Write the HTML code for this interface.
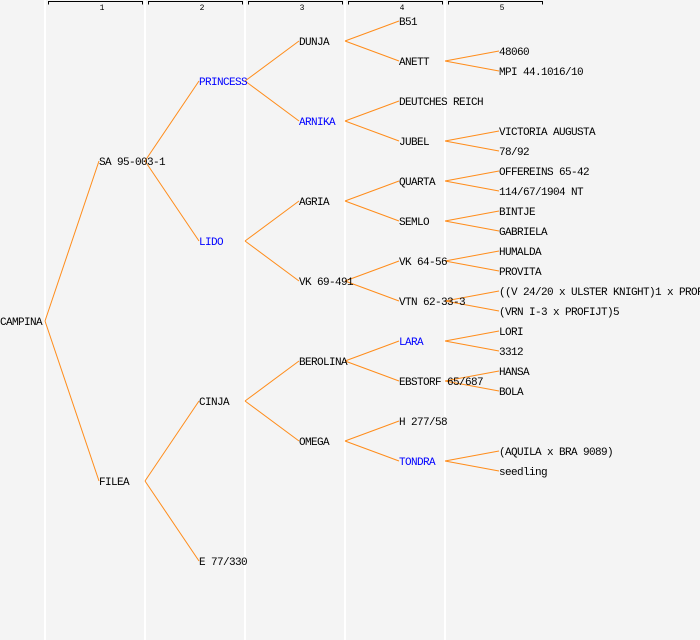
<!DOCTYPE html>
<html><head><meta charset="utf-8"><style>
html,body{margin:0;padding:0;background:#f4f4f4;}
svg{display:block;}
text{font-family:"Liberation Mono",monospace;font-size:11px;letter-spacing:-0.6px;fill:#000;}
.b{fill:#0000ff;}
.h{font-size:8px;letter-spacing:0;}
line.c{stroke:#ff8c1a;stroke-width:1;}
</style></head><body>
<svg width="700" height="640" xmlns="http://www.w3.org/2000/svg">
<rect width="700" height="640" fill="#f4f4f4"/>
<g stroke="#fff" stroke-width="2">
<line x1="45" y1="0" x2="45" y2="640"/><line x1="145" y1="0" x2="145" y2="640"/><line x1="245" y1="0" x2="245" y2="640"/><line x1="345" y1="0" x2="345" y2="640"/><line x1="445" y1="0" x2="445" y2="640"/>
</g>
<g stroke="#000" stroke-width="1" fill="none">
<path d="M48.5 4.5V1.5H142.5V4.5"/><path d="M148.5 4.5V1.5H242.5V4.5"/><path d="M248.5 4.5V1.5H342.5V4.5"/><path d="M348.5 4.5V1.5H442.5V4.5"/><path d="M448.5 4.5V1.5H542.5V4.5"/>
</g>
<g text-anchor="middle"><text class="h" x="102" y="10">1</text><text class="h" x="202" y="10">2</text><text class="h" x="302" y="10">3</text><text class="h" x="402" y="10">4</text><text class="h" x="502" y="10">5</text></g>
<g>
<line class="c" x1="45" y1="321" x2="99" y2="161"/><line class="c" x1="45" y1="321" x2="99" y2="481"/>
<line class="c" x1="145" y1="161" x2="199" y2="81"/><line class="c" x1="145" y1="161" x2="199" y2="241"/>
<line class="c" x1="145" y1="481" x2="199" y2="401"/><line class="c" x1="145" y1="481" x2="199" y2="561"/>
<line class="c" x1="245" y1="81" x2="299" y2="41"/><line class="c" x1="245" y1="81" x2="299" y2="121"/>
<line class="c" x1="245" y1="241" x2="299" y2="201"/><line class="c" x1="245" y1="241" x2="299" y2="281"/>
<line class="c" x1="245" y1="401" x2="299" y2="361"/><line class="c" x1="245" y1="401" x2="299" y2="441"/>
<line class="c" x1="345" y1="41" x2="399" y2="21"/><line class="c" x1="345" y1="41" x2="399" y2="61"/>
<line class="c" x1="345" y1="121" x2="399" y2="101"/><line class="c" x1="345" y1="121" x2="399" y2="141"/>
<line class="c" x1="345" y1="201" x2="399" y2="181"/><line class="c" x1="345" y1="201" x2="399" y2="221"/>
<line class="c" x1="345" y1="281" x2="399" y2="261"/><line class="c" x1="345" y1="281" x2="399" y2="301"/>
<line class="c" x1="345" y1="361" x2="399" y2="341"/><line class="c" x1="345" y1="361" x2="399" y2="381"/>
<line class="c" x1="345" y1="441" x2="399" y2="421"/><line class="c" x1="345" y1="441" x2="399" y2="461"/>
<line class="c" x1="445" y1="61" x2="499" y2="51"/><line class="c" x1="445" y1="61" x2="499" y2="71"/>
<line class="c" x1="445" y1="141" x2="499" y2="131"/><line class="c" x1="445" y1="141" x2="499" y2="151"/>
<line class="c" x1="445" y1="181" x2="499" y2="171"/><line class="c" x1="445" y1="181" x2="499" y2="191"/>
<line class="c" x1="445" y1="221" x2="499" y2="211"/><line class="c" x1="445" y1="221" x2="499" y2="231"/>
<line class="c" x1="445" y1="261" x2="499" y2="251"/><line class="c" x1="445" y1="261" x2="499" y2="271"/>
<line class="c" x1="445" y1="301" x2="499" y2="291"/><line class="c" x1="445" y1="301" x2="499" y2="311"/>
<line class="c" x1="445" y1="341" x2="499" y2="331"/><line class="c" x1="445" y1="341" x2="499" y2="351"/>
<line class="c" x1="445" y1="381" x2="499" y2="371"/><line class="c" x1="445" y1="381" x2="499" y2="391"/>
<line class="c" x1="445" y1="461" x2="499" y2="451"/><line class="c" x1="445" y1="461" x2="499" y2="471"/>
</g>
<g>
<text x="0" y="325">CAMPINA</text>
<text x="99" y="165">SA 95-003-1</text><text x="99" y="485">FILEA</text>
<text class="b" x="199" y="85">PRINCESS</text><text class="b" x="199" y="245">LIDO</text><text x="199" y="405">CINJA</text><text x="199" y="565">E 77/330</text>
<text x="299" y="45">DUNJA</text><text class="b" x="299" y="125">ARNIKA</text><text x="299" y="205">AGRIA</text><text x="299" y="285">VK 69-491</text><text x="299" y="365">BEROLINA</text><text x="299" y="445">OMEGA</text>
<text x="399" y="25">B51</text><text x="399" y="65">ANETT</text><text x="399" y="105">DEUTCHES REICH</text><text x="399" y="145">JUBEL</text><text x="399" y="185">QUARTA</text><text x="399" y="225">SEMLO</text><text x="399" y="265">VK 64-56</text><text x="399" y="305">VTN 62-33-3</text><text class="b" x="399" y="345">LARA</text><text x="399" y="385">EBSTORF 65/687</text><text x="399" y="425">H 277/58</text><text class="b" x="399" y="465">TONDRA</text>
<text x="499" y="55">48060</text><text x="499" y="75">MPI 44.1016/10</text><text x="499" y="135">VICTORIA AUGUSTA</text><text x="499" y="155">78/92</text><text x="499" y="175">OFFEREINS 65-42</text><text x="499" y="195">114/67/1904 NT</text><text x="499" y="215">BINTJE</text><text x="499" y="235">GABRIELA</text><text x="499" y="255">HUMALDA</text><text x="499" y="275">PROVITA</text><text x="499" y="295">((V 24/20 x ULSTER KNIGHT)1 x PROFIJT</text><text x="499" y="315">(VRN I-3 x PROFIJT)5</text><text x="499" y="335">LORI</text><text x="499" y="355">3312</text><text x="499" y="375">HANSA</text><text x="499" y="395">BOLA</text><text x="499" y="455">(AQUILA x BRA 9089)</text><text x="499" y="475">seedling</text>
</g>
</svg>
</body></html>
